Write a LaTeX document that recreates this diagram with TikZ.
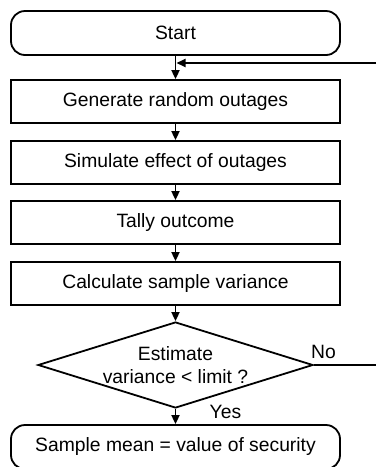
\documentclass[tikz,border=0pt]{standalone}
\usepackage{fontspec}
\setmainfont{Liberation Sans}
\usetikzlibrary{arrows.meta,shapes.geometric,calc}

\begin{document}
\begin{tikzpicture}[x=1pt,y=-1pt,
  every node/.style={font=\fontsize{19.3}{23.5}\selectfont},
  flowline/.style={line width=1.8pt},
  flowarrow/.style={flowline,-{Triangle[length=9pt,width=8pt]}},
  terminal/.style={draw,line width=1.8pt,rounded corners=14pt,
    minimum width=329pt,minimum height=44pt,inner sep=0pt},
  process/.style={draw,line width=1.8pt,
    minimum width=329pt,minimum height=43pt,inner sep=0pt},
  decision/.style={draw,line width=1.8pt,diamond,inner sep=0pt,
    minimum width=275pt,minimum height=86pt},
  branchlbl/.style={inner sep=0pt}]
  \useasboundingbox (0,0) rectangle (376,467);

  % steps of the simulation loop
  \node[terminal] (start) at (175.5,33)    {Start};
  \node[process]  (gen)   at (175.5,101.5) {Generate random outages};
  \node[process]  (sim)   at (175.5,162.5) {Simulate effect of outages};
  \node[process]  (tally) at (175.5,222.5) {Tally outcome};
  \node[process]  (calc)  at (175.5,283.5) {Calculate sample variance};
  \node[decision] (test)  at (175.5,365)   {};
  \node[align=center,inner sep=0pt] (testtxt) at (test) {Estimate\\variance < limit ?};
  \node[terminal] (stop)  at (175.5,447)   {Sample mean = value of security};

  % loop-back ends at the right margin
  \coordinate (noend)  at (376,365);
  \coordinate (retbeg) at (376,63);

  % main flow
  \draw[flowarrow] (start) -- (gen);
  \draw[flowarrow] (gen)   -- (sim);
  \draw[flowarrow] (sim)   -- (tally);
  \draw[flowarrow] (tally) -- (calc);
  \draw[flowarrow] (calc)  -- (test);
  \draw[flowarrow] (test)  -- (stop);

  % "No" branch leaves to the right, re-entry arrow comes back in
  \draw[flowline]  (test.east) -- (noend);
  \draw[flowarrow] (retbeg) -- ($(start.south |- retbeg)+(1,0)$);

  \node[branchlbl,anchor=base west] (nolbl)  at ([xshift=-3pt,yshift=7pt]test.east)    {No};
  \node[branchlbl,anchor=base west] (yeslbl) at ([xshift=34pt,yshift=-10pt]test.south) {Yes};
\end{tikzpicture}
\end{document}
